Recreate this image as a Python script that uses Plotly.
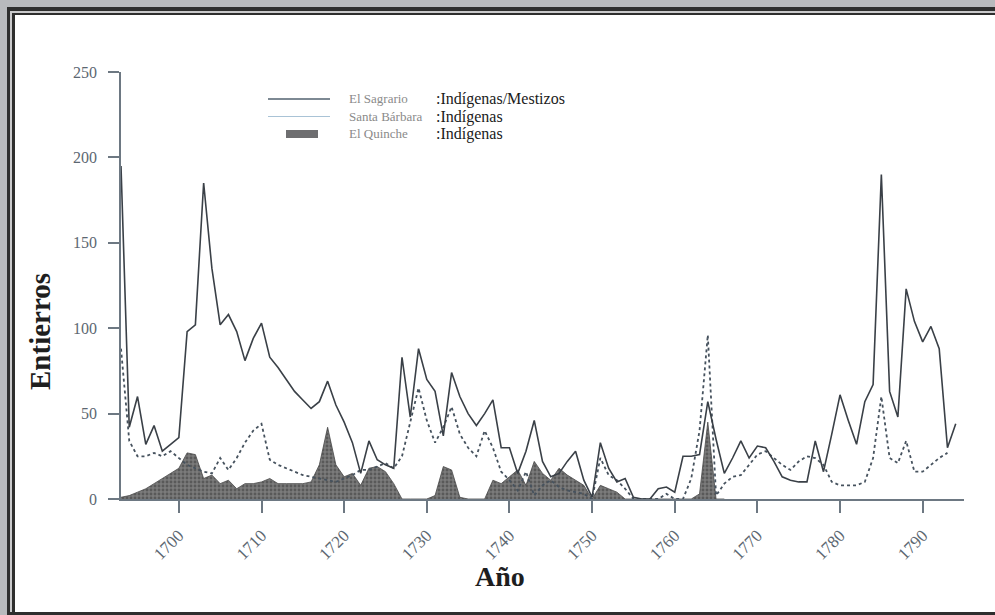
import plotly.graph_objects as go

# ---------------- data ----------------
years_sagrario = list(range(1693, 1795))
sagrario = [195, 42, 60, 32, 43, 28, 32, 36, 98, 102,
            185, 135, 102, 108, 98, 81, 94, 103, 83, 77,
            70, 63, 58, 53, 57, 69, 55, 45, 33, 15,
            34, 23, 20, 18, 83, 48, 88, 70, 63, 37,
            74, 60, 50, 43, 50, 58, 30, 30, 15, 28,
            46, 22, 13, 15, 22, 28, 11, 1, 33, 18,
            10, 12, 1, 0, 0, 6, 7, 4, 25, 25,
            26, 57, 35, 15, 24, 34, 24, 31, 30, 22,
            13, 11, 10, 10, 34, 16, 38, 61, 46, 32,
            57, 67, 190, 63, 48, 123, 104, 92, 101, 88,
            30, 44]

years_barbara = list(range(1693, 1794))
barbara = [88, 34, 25, 25, 27, 25, 28, 24, 20, 18,
           16, 15, 24, 17, 24, 33, 40, 44, 23, 20,
           18, 16, 14, 13, 12, 11, 10, 12, 14, 17,
           17, 19, 21, 18, 25, 45, 65, 46, 33, 42,
           54, 38, 30, 25, 40, 30, 16, 11, 5, 16,
           2, 8, 11, 7, 5, 4, 3, 0, 24, 14,
           11, 6, 0, 0, 0, 0, 3, 0, 0, 12,
           40, 96, 2, 9, 13, 14, 20, 26, 28, 24,
           20, 17, 22, 25, 24, 20, 10, 8, 8, 8,
           10, 24, 60, 24, 21, 34, 16, 16, 20, 24,
           27]

years_quinche = list(range(1693, 1767))
quinche = [1, 2, 4, 6, 9, 12, 15, 18, 27, 26,
           12, 14, 9, 11, 6, 9, 9, 10, 12, 9,
           9, 9, 9, 10, 20, 42, 20, 13, 15, 8,
           18, 19, 16, 9, 0, 0, 0, 0, 2, 19,
           17, 1, 0, 0, 0, 11, 9, 13, 17, 8,
           22, 15, 11, 18, 14, 11, 8, 0, 8, 6,
           4, 0, 0, 0, 0, 0, 0, 0, 0, 0,
           3, 45, 0, 0]

x_ticks = [1700, 1710, 1720, 1730, 1740, 1750, 1760, 1770, 1780, 1790]
x_tick_labels = [str(v) for v in x_ticks]
y_ticks = [0, 50, 100, 150, 200, 250]
y_tick_labels = [str(v) for v in y_ticks]

legend_names = ["El Sagrario", "Santa Bárbara", "El Quinche"]
legend_groups = [":Indígenas/Mestizos", ":Indígenas", ":Indígenas"]

# ---------------- layout geometry (pixels) ----------------
W_FIG, H_FIG = 995, 615
L, R, T, B = 121, 31, 72, 116
PW = W_FIG - L - R
PH = H_FIG - T - B


def px(x):
    return (x - L) / PW


def py(y):
    return 1 - (y - T) / PH


SERIF = "Liberation Serif"
AXIS_COL = "#6d7882"

fig = go.Figure()

fig.add_trace(go.Scatter(
    x=years_quinche, y=quinche, mode="lines", fill="tozeroy",
    line=dict(color="#474747", width=0.8),
    fillcolor="rgba(100,100,100,0.9)",
    fillpattern=dict(shape=".", fgcolor="#383838", bgcolor="rgba(112,112,112,0.92)",
                     size=4, solidity=0.4),
    name="El Quinche", showlegend=False, hoverinfo="skip"))

fig.add_trace(go.Scatter(
    x=years_barbara, y=barbara, mode="lines",
    line=dict(color="#46525e", width=1.8, dash="dot"),
    name="Santa Bárbara", showlegend=False))

fig.add_trace(go.Scatter(
    x=years_sagrario, y=sagrario, mode="lines",
    line=dict(color="#3a4047", width=1.6),
    name="El Sagrario", showlegend=False))

shapes = []
# page frame
shapes.append(dict(type="rect", xref="paper", yref="paper", layer="below",
                   x0=px(7), x1=px(1005), y0=py(7), y1=py(620),
                   fillcolor="#2e2e2e", line=dict(width=0)))
shapes.append(dict(type="rect", xref="paper", yref="paper", layer="below",
                   x0=px(10), x1=px(1005), y0=py(11), y1=py(612),
                   fillcolor="#c9c9cb", line=dict(width=0)))
shapes.append(dict(type="rect", xref="paper", yref="paper", layer="below",
                   x0=px(12), x1=px(1005), y0=py(13), y1=py(612),
                   fillcolor="#2e2e2e", line=dict(width=0)))
shapes.append(dict(type="rect", xref="paper", yref="paper", layer="below",
                   x0=px(15), x1=px(1005), y0=py(15), y1=py(612),
                   fillcolor="#ffffff", line=dict(width=0)))

# legend keys
row_y = [99, 116.5, 134]
shapes.append(dict(type="line", xref="paper", yref="paper",
                   x0=px(268), x1=px(330), y0=py(row_y[0]), y1=py(row_y[0]),
                   line=dict(color="#52626f", width=1.6)))
shapes.append(dict(type="line", xref="paper", yref="paper",
                   x0=px(268), x1=px(330), y0=py(row_y[1]), y1=py(row_y[1]),
                   line=dict(color="#a9c3d6", width=1.2)))
shapes.append(dict(type="rect", xref="paper", yref="paper",
                   x0=px(286), x1=px(318), y0=py(row_y[2] - 4), y1=py(row_y[2] + 4),
                   fillcolor="#6e6e70", line=dict(width=0)))

annotations = []
for i in range(3):
    annotations.append(dict(xref="paper", yref="paper", x=px(347), y=py(row_y[i]),
                            xanchor="left", yanchor="middle", showarrow=False,
                            text=legend_names[i],
                            font=dict(family=SERIF, size=13, color="#8a8a8a")))
    annotations.append(dict(xref="paper", yref="paper", x=px(434), y=py(row_y[i]),
                            xanchor="left", yanchor="middle", showarrow=False,
                            text=legend_groups[i],
                            font=dict(family=SERIF, size=16, color="#1a1a1a")))

annotations.append(dict(xref="paper", yref="paper", x=px(40), y=py(332),
                        xanchor="center", yanchor="middle", showarrow=False,
                        text="<b>Entierros</b>", textangle=-90,
                        font=dict(family=SERIF, size=29, color="#1e1e1e")))
annotations.append(dict(xref="paper", yref="paper", x=px(500), y=py(576),
                        xanchor="center", yanchor="middle", showarrow=False,
                        text="<b>Año</b>",
                        font=dict(family=SERIF, size=28, color="#1e1e1e")))

fig.update_layout(
    width=W_FIG, height=H_FIG,
    margin=dict(l=L, r=R, t=T, b=B, pad=0),
    paper_bgcolor="#b8babd",
    plot_bgcolor="rgba(0,0,0,0)",
    shapes=shapes,
    annotations=annotations,
    showlegend=False,
    xaxis=dict(range=[1693, 1795], tickmode="array", tickvals=x_ticks,
               ticktext=x_tick_labels, tickangle=-45,
               ticks="outside", ticklen=12, tickwidth=2, tickcolor=AXIS_COL,
               showline=True, linecolor=AXIS_COL, linewidth=1.5,
               showgrid=False, zeroline=False, ticklabelstandoff=6,
               tickfont=dict(family=SERIF, size=17, color="#5c6771")),
    yaxis=dict(range=[0, 250], tickmode="array", tickvals=y_ticks,
               ticktext=y_tick_labels,
               ticks="outside", ticklen=11, tickwidth=1.5, tickcolor=AXIS_COL,
               showline=True, linecolor=AXIS_COL, linewidth=1.5,
               showgrid=False, zeroline=False, ticklabelstandoff=8,
               tickfont=dict(family=SERIF, size=16, color="#5c6771")),
)

fig.write_html("out.html")
